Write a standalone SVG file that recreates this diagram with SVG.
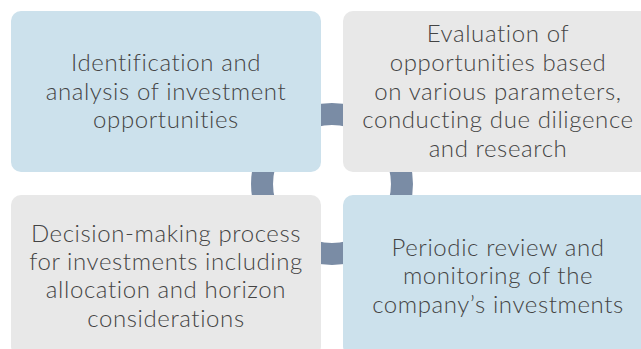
<svg xmlns="http://www.w3.org/2000/svg" width="641" height="349" viewBox="0 0 641 349">
<style>
.blue{fill:#cce1ec}
.gray{fill:#e8e8e8}
.conn{fill:none;stroke:#7a8ca5;stroke-width:22}
text{font-family:Lato,"Open Sans","Liberation Sans",sans-serif;font-weight:300;font-size:24px;letter-spacing:0.6px;fill:#444444;text-anchor:middle}
</style>
<rect width="641" height="349" fill="#ffffff"/>
<g id="connectors">
<path class="conn" d="M297,123.4 A70,70 0 0 1 367,123.4"/>
<path class="conn" d="M392.6,149 A70,70 0 0 1 392.6,219"/>
<path class="conn" d="M367,244.6 A70,70 0 0 1 297,244.6"/>
<path class="conn" d="M271.4,219 A70,70 0 0 1 271.4,149"/>
</g>
<g id="node-identification">
<rect class="blue" x="11" y="11" width="310" height="161" rx="10"/>
<text x="166" y="71">Identification and</text>
<text x="166" y="100">analysis of investment</text>
<text x="166" y="128">opportunities</text>
</g>
<g id="node-evaluation">
<rect class="gray" x="343" y="11" width="310" height="161" rx="10"/>
<text x="498" y="42">Evaluation of</text>
<text x="498" y="71">opportunities based</text>
<text x="498" y="100">on various parameters,</text>
<text x="498" y="128">conducting due diligence</text>
<text x="498" y="157">and research</text>
</g>
<g id="node-decision">
<rect class="gray" x="11" y="195" width="310" height="161" rx="10"/>
<text x="166" y="242">Decision-making process</text>
<text x="166" y="270">for investments including</text>
<text x="166" y="298">allocation and horizon</text>
<text x="166" y="327">considerations</text>
</g>
<g id="node-review">
<rect class="blue" x="343" y="195" width="310" height="161" rx="10"/>
<text x="498" y="256">Periodic review and</text>
<text x="498" y="284">monitoring of the</text>
<text x="498" y="313">company’s investments</text>
</g>
</svg>
